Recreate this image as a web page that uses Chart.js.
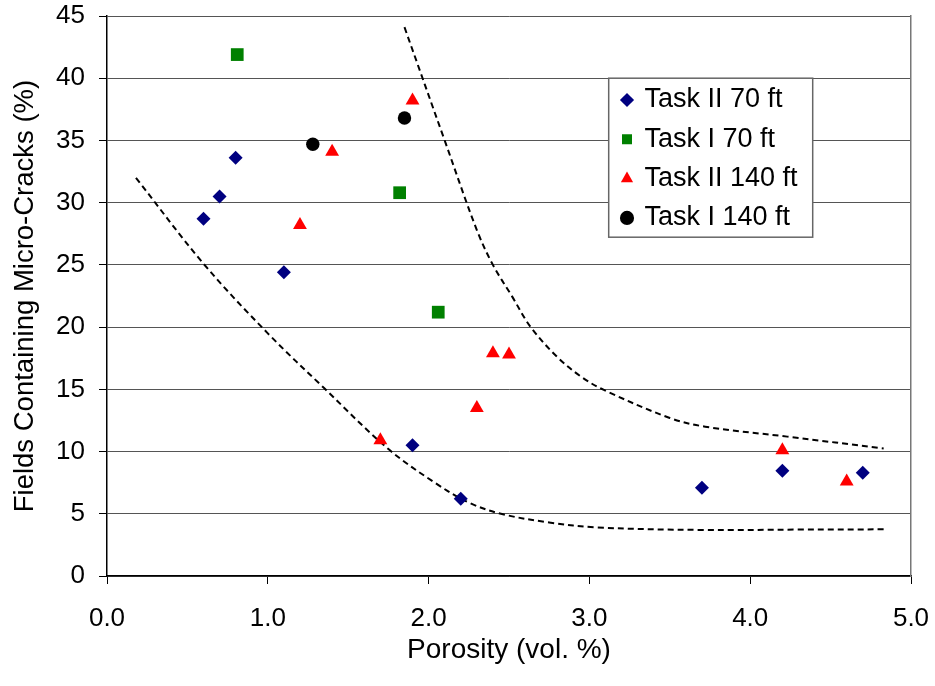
<!DOCTYPE html>
<html>
<head>
<meta charset="utf-8">
<title>Micro-cracks vs porosity</title>
<script src="https://cdn.jsdelivr.net/npm/chart.js@4.4.1/dist/chart.umd.min.js"></script>
<style>
  html, body { margin: 0; padding: 0; background: #fff; }
  #wrap { width: 935px; height: 686px; }
</style>
</head>
<body>
<div id="wrap"><canvas id="chart"></canvas></div>
<script>
// Measured points, porosity (vol. %) vs fields with micro-cracks (%)
const task2ft70X  = [0.6, 0.7, 0.8, 1.1, 1.9, 2.2, 3.7, 4.2, 4.7];
const task2ft70Y  = [28.7, 30.5, 33.6, 24.4, 10.5, 6.2, 7.1, 8.45, 8.3];
const task1ft70X  = [0.81, 1.82, 2.06];
const task1ft70Y  = [41.9, 30.8, 21.2];
const task2ft140X = [1.2, 1.4, 1.7, 1.9, 2.3, 2.4, 2.5, 4.2, 4.6];
const task2ft140Y = [28.2, 34.1, 10.9, 38.2, 13.5, 17.9, 17.8, 10.1, 7.6];
const task1ft140X = [1.28, 1.85];
const task1ft140Y = [34.7, 36.8];

// Envelope curves (dashed)
const lowerX = [0.18, 0.6, 1.0, 1.35, 1.75, 2.05, 2.25, 2.45, 2.75, 3.05, 3.7, 4.3, 4.85];
const lowerY = [32.0, 25.1, 19.5, 15.1, 10.2, 7.4, 5.9, 5.0, 4.3, 3.9, 3.7, 3.73, 3.75];
const upperX = [1.85, 2.1, 2.3, 2.4, 2.52, 2.635, 2.8, 2.95, 3.09, 3.5, 3.72, 4.23, 4.83];
const upperY = [44.1, 35.0, 27.8, 25.0, 22.45, 20.0, 17.6, 16.0, 14.95, 12.7, 12.0, 11.2, 10.25];

const xTickLabels = ["0.0", "1.0", "2.0", "3.0", "4.0", "5.0"];

const FONT = "'Liberation Sans', Arial, sans-serif";
const pts = (xs, ys) => xs.map((x, i) => ({ x, y: ys[i] }));

function marker(label, xs, ys, color, style, r) {
  return {
    label, data: pts(xs, ys),
    pointStyle: style, pointRadius: r,
    backgroundColor: color, borderColor: color, borderWidth: 0
  };
}
function envelope(label, xs, ys) {
  return {
    label, data: pts(xs, ys), showLine: true,
    borderColor: "#000", borderWidth: 2, borderDash: [6, 4],
    pointRadius: 0, tension: 0.35, fill: false
  };
}

// fixed axis boxes, no extra room reserved for overhanging tick labels
function fixBox(w, h) {
  return s => {
    if (w !== null) s.width = w;
    if (h !== null) s.height = h;
    s.paddingTop = s.paddingBottom = s.paddingLeft = s.paddingRight = 0;
  };
}

// moves the legend into the plot and gives it a white framed box
const legendBox = {
  id: "legendBox",
  afterLayout(chart) {
    const lg = chart.legend;
    lg.left = 610.7; lg.top = 74.2;
    lg.right = lg.left + lg.width;
    lg.bottom = lg.top + lg.height;
  },
  beforeDatasetsDraw(chart) {
    const lg = chart.legend, ctx = chart.ctx;
    ctx.save();
    ctx.fillStyle = "#fff";
    ctx.strokeStyle = "#666";
    ctx.lineWidth = 1.5;
    ctx.fillRect(lg.left - 2, lg.top + 4, 204, 159);
    ctx.strokeRect(lg.left - 2, lg.top + 4, 204, 159);
    ctx.restore();
    lg.draw();
  }
};

new Chart(document.getElementById("chart"), {
  type: "scatter",
  data: {
    datasets: [
      marker("Task II 70 ft", task2ft70X, task2ft70Y, "#000080", "rectRot", 7),
      marker("Task I 70 ft", task1ft70X, task1ft70Y, "#008000", "rect", 9),
      marker("Task II 140 ft", task2ft140X, task2ft140Y, "#ff0000", "triangle", 8),
      marker("Task I 140 ft", task1ft140X, task1ft140Y, "#000000", "circle", 6.7),
      envelope("upper", upperX, upperY),
      envelope("lower", lowerX, lowerY)
    ]
  },
  options: {
    responsive: true,
    maintainAspectRatio: false,
    animation: false,
    events: [],
    layout: { padding: { top: 16, right: 24, bottom: 0, left: 0 } },
    plugins: {
      tooltip: { enabled: false },
      legend: {
        position: "chartArea",
        align: "start",
        labels: {
          usePointStyle: true,
          boxWidth: 8, boxHeight: 10,
          padding: 12.3,
          color: "#000",
          font: { family: FONT, size: 27 },
          filter: item => item.datasetIndex < 4
        }
      }
    },
    scales: {
      x: {
        type: "linear", min: 0, max: 5,
        afterFit: fixBox(null, 110),
        ticks: {
          stepSize: 1, padding: 19, color: "#000",
          font: { family: FONT, size: 26 },
          callback: (v, i) => xTickLabels[i]
        },
        grid: { drawOnChartArea: false, tickLength: 8, tickColor: "#000" },
        border: { color: "#000", width: 1.5 },
        title: {
          display: true, text: "Porosity (vol. %)", color: "#000",
          font: { family: FONT, size: 28 }, padding: { top: 0, bottom: 19 }
        }
      },
      y: {
        min: 0, max: 45,
        afterFit: fixBox(107, null),
        ticks: {
          stepSize: 5, padding: 14, color: "#000",
          font: { family: FONT, size: 26 }
        },
        grid: { color: "#555", lineWidth: 1, tickLength: 8, tickColor: "#000" },
        border: { color: "#000", width: 1.5 },
        title: {
          display: true, text: "Fields Containing Micro-Cracks (%)", color: "#000",
          font: { family: FONT, size: 27.5 }, padding: { top: 9, bottom: 0 }
        }
      },
      yRight: {
        position: "right", min: 0, max: 45,
        afterFit: fixBox(0, null),
        ticks: { display: false },
        grid: { drawOnChartArea: false, drawTicks: false },
        border: { color: "#777", width: 1.5 }
      }
    }
  },
  plugins: [legendBox]
});
</script>
</body>
</html>
